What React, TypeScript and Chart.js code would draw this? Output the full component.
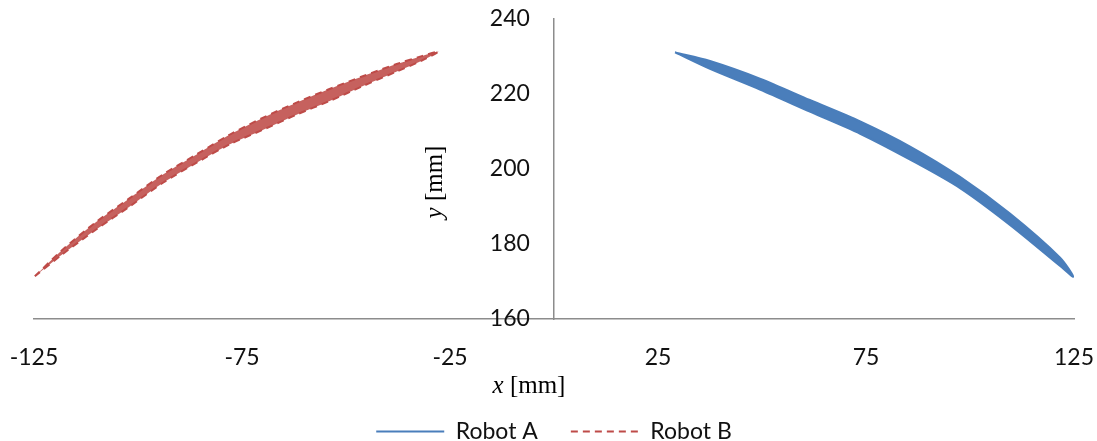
import React, { useEffect, useRef } from "react";
import { Chart, registerables } from "chart.js";

Chart.register(...registerables);

// Axis ticks
const xTicks = [-125, -75, -25, 25, 75, 125];
const yTicks = [160, 180, 200, 220, 240];

// Robot A (blue band): x positions, upper pass and lower pass of the trajectory
const robotAX = [29.1, 37.5, 49.5, 61.5, 73.6, 85.6, 97.6, 109.6, 121.6, 124.8];
const robotATopY = [231.1, 228.8, 224.1, 218.4, 212.7, 206.0, 197.9, 188.1, 176.4, 171.3];
const robotABottomY = [231.1, 226.7, 221.2, 215.3, 209.4, 202.5, 194.9, 185.1, 174.2, 171.3];

// Robot B (red band)
const robotBX = [-124.8, -118.0, -109.9, -101.9, -93.9, -85.9, -77.9, -69.9, -61.9, -53.8, -45.8, -37.8, -31.8, -27.8];
const robotBTopY = [171.4, 178.6, 186.0, 192.3, 198.6, 203.9, 209.2, 213.7, 217.7, 221.4, 224.8, 228.0, 230.1, 231.3];
const robotBBottomY = [171.4, 177.4, 184.0, 190.1, 196.4, 201.7, 206.6, 210.5, 214.5, 218.2, 222.2, 226.0, 228.9, 231.3];

const seriesLabels = ["Robot A", "Robot B"];

// horizontal position (in x units) where the y tick labels end, left of the y axis
const yLabelX = -5.8;

function loopPath(xs: number[], top: number[], bottom: number[]) {
  const pts = xs.map((x, i) => ({ x, y: top[i] }));
  for (let i = xs.length - 2; i >= 1; i--) pts.push({ x: xs[i], y: bottom[i] });
  pts.push({ x: xs[0], y: bottom[0] });
  return pts;
}

const SANS = "Lato";
const SERIF = "'Liberation Serif', 'Times New Roman', serif";

function drawMixed(ctx: CanvasRenderingContext2D, cx: number, cy: number, italicPart: string, rest: string) {
  const size = 25;
  ctx.font = `italic ${size}px ${SERIF}`;
  const w1 = ctx.measureText(italicPart).width;
  ctx.font = `${size}px ${SERIF}`;
  const w2 = ctx.measureText(rest).width;
  const start = cx - (w1 + w2) / 2;
  ctx.textBaseline = "middle";
  ctx.textAlign = "left";
  ctx.fillStyle = "#000";
  ctx.font = `italic ${size}px ${SERIF}`;
  ctx.fillText(italicPart, start, cy);
  ctx.font = `${size}px ${SERIF}`;
  ctx.fillText(rest, start + w1, cy);
}

const axisTitlePlugin = {
  id: "axisTitles",
  beforeLayout(chart: any) {
    const lg = chart.legend;
    if (lg && !lg.__patched) {
      const orig = lg.fit.bind(lg);
      lg.fit = function () {
        orig();
        this.height = 54;
      };
      lg.__patched = true;
    }
  },
  afterDraw(chart: any) {
    const { ctx, chartArea, scales } = chart;
    const yAxisPx = scales.x.getPixelForValue(0);
    ctx.save();
    drawMixed(ctx, yAxisPx - 25, chartArea.bottom + 67, "x", " [mm]");
    ctx.translate(yAxisPx - 119, (chartArea.top + chartArea.bottom) / 2 + 13);
    ctx.rotate(-Math.PI / 2);
    drawMixed(ctx, 0, 0, "y", " [mm]");
    ctx.restore();
  },
};

export default function App() {
  const ref = useRef<HTMLCanvasElement | null>(null);

  useEffect(() => {
    if (!ref.current) return;
    const chart = new Chart(ref.current, {
      type: "line",
      data: {
        datasets: [
          {
            label: seriesLabels[0],
            data: loopPath(robotAX, robotATopY, robotABottomY),
            borderColor: "#4A7EBB",
            backgroundColor: "#4A7EBB",
            borderWidth: 2,
            fill: "shape",
            pointRadius: 0,
            tension: 0.3,
          },
          {
            label: seriesLabels[1],
            data: loopPath(robotBX, robotBTopY, robotBBottomY),
            borderColor: "#BE4B48",
            backgroundColor: "rgba(192,80,77,0.9)",
            borderWidth: 2,
            borderDash: [7, 5],
            fill: "shape",
            pointRadius: 0,
            tension: 0.3,
          },
        ],
      },
      options: {
        responsive: false,
        animation: false,
        events: [],
        layout: { padding: { left: 34, right: 23, top: 19, bottom: 0 } },
        scales: {
          x: {
            type: "linear",
            position: "bottom",
            min: -125,
            max: 125,
            afterBuildTicks: (s: any) => {
              s.ticks = xTicks.map((v) => ({ value: v }));
            },
            afterFit: (s: any) => {
              s.height = 68;
            },
            grid: { display: false, drawTicks: true, tickLength: 25 },
            border: { display: true, color: "#8c8c8c", width: 1.5 },
            ticks: {
              font: { family: SANS, size: 23 },
              color: "#111",
              padding: 0,
              maxRotation: 0,
              autoSkip: false,
            },
          },
          y: {
            type: "linear",
            axis: "y",
            position: { x: 0 } as any,
            min: 160,
            max: 240,
            afterBuildTicks: (s: any) => {
              s.ticks = yTicks.map((v) => ({ value: v }));
            },
            grid: { display: false, drawTicks: false },
            border: { display: true, color: "#8c8c8c", width: 1.5 },
            ticks: { display: false },
          },
          yLabels: {
            type: "linear",
            axis: "y",
            position: { x: yLabelX } as any,
            min: 160,
            max: 240,
            afterBuildTicks: (s: any) => {
              s.ticks = yTicks.map((v) => ({ value: v }));
            },
            grid: { display: false, drawTicks: false },
            border: { display: false },
            ticks: {
              font: { family: SANS, size: 23 },
              color: "#111",
              padding: 0,
              autoSkip: false,
            },
          },
        },
        plugins: {
          tooltip: { enabled: false },
          legend: {
            position: "bottom",
            labels: {
              usePointStyle: true,
              pointStyle: "line",
              pointStyleWidth: 68,
              padding: 33,
              font: { family: SANS, size: 23 },
              color: "#111",
              generateLabels: (ch: any) => {
                const base = (Chart as any).defaults.plugins.legend.labels.generateLabels(ch);
                return base.map((item: any) => {
                  const ds = ch.data.datasets[item.datasetIndex];
                  return {
                    ...item,
                    pointStyle: "line",
                    strokeStyle: ds.borderColor,
                    fillStyle: ds.borderColor,
                    lineWidth: 2,
                    lineDash: ds.borderDash || [],
                  };
                });
              },
            },
          },
        },
      },
      plugins: [axisTitlePlugin],
    } as any);
    return () => chart.destroy();
  }, []);

  return (
    <div style={{ position: "absolute", left: 0, top: 0, width: 1097, height: 441, background: "#fff" }}>
      <canvas ref={ref} width={1097} height={441} style={{ display: "block" }} />
    </div>
  );
}
